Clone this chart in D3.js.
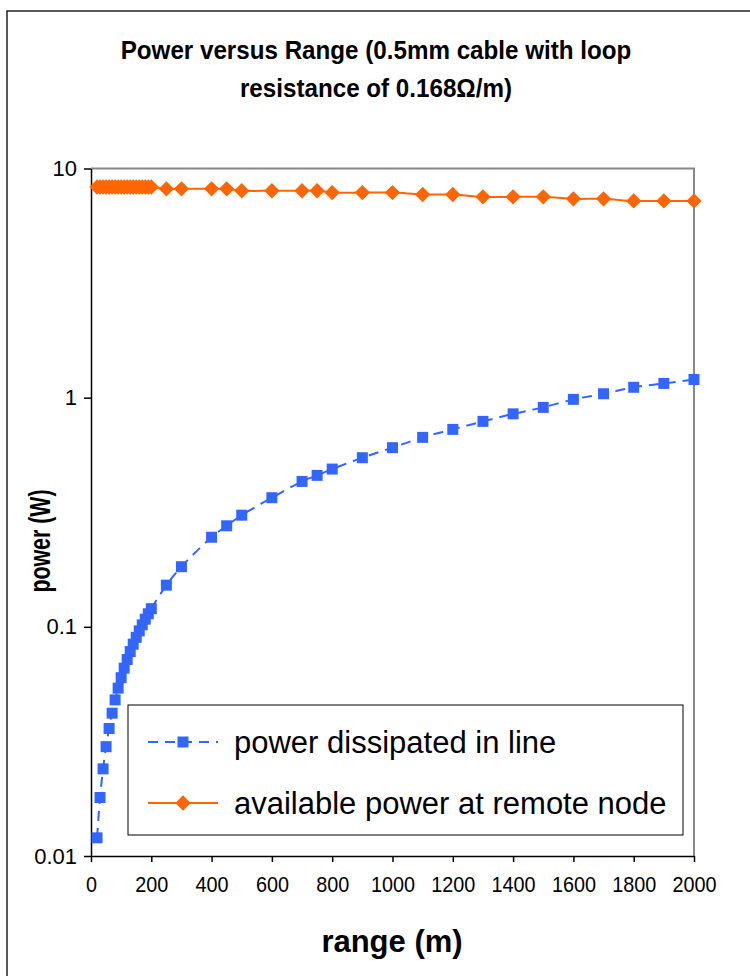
<!DOCTYPE html>
<meta charset="utf-8">

<style type="text/css">
  body {
    margin: 0;
    background: #fff;
    font-family: "Liberation Sans", Arial, sans-serif;
  }

  .axis path,
  .axis line {
    stroke: #000;
    stroke-width: 1.5px;
  }

  .axis text {
    font-family: "Liberation Sans", Arial, sans-serif;
    font-size: 22px;
    fill: #000;
  }
</style>

<body>
</body>

<script src="https://d3js.org/d3.v7.min.js"></script>
<script>
  // range in metres (same points for both series)
  var rangeM = [20, 30, 40, 50, 60, 70, 80, 90, 100, 110, 120, 130, 140, 150, 160, 170, 180, 190, 200,
    250, 300, 400, 450, 500, 600, 700, 750, 800, 900, 1000, 1100, 1200, 1300, 1400, 1500, 1600, 1700, 1800, 1900, 2000];

  // power dissipated in line (W)
  var lineLoss = [0.012, 0.018, 0.024, 0.030, 0.036, 0.042, 0.048, 0.054, 0.060, 0.066, 0.072, 0.078, 0.084, 0.090, 0.096, 0.102, 0.108, 0.114, 0.120,
    0.152, 0.183, 0.246, 0.276, 0.307, 0.366, 0.431, 0.458, 0.488, 0.547, 0.605, 0.671, 0.727, 0.788, 0.850, 0.907, 0.983, 1.04, 1.11, 1.154, 1.20];

  // available power at remote node (W)
  var nodePower = [8.3, 8.3, 8.3, 8.3, 8.3, 8.3, 8.3, 8.3, 8.3, 8.3, 8.3, 8.3, 8.3, 8.3, 8.3, 8.3, 8.3, 8.3, 8.3,
    8.15, 8.15, 8.15, 8.15, 8.0, 8.0, 8.0, 8.0, 7.85, 7.85, 7.85, 7.7, 7.7, 7.52, 7.52, 7.52, 7.37, 7.37, 7.22, 7.22, 7.22];

  var xTicks = [0, 200, 400, 600, 800, 1000, 1200, 1400, 1600, 1800, 2000];
  var xTickLabels = ["0", "200", "400", "600", "800", "1000", "1200", "1400", "1600", "1800", "2000"];
  var yTicks = [0.01, 0.1, 1, 10];
  var yTickLabels = ["0.01", "0.1", "1", "10"];

  var seriesNames = ["power dissipated in line", "available power at remote node"];

  var W = 750,
    H = 976,
    plot = { left: 91, right: 694, top: 168.5, bottom: 856 };

  var blue = "#3366ff",
    orange = "#ff6600";

  var x = d3.scaleLinear().domain([0, 2000]).range([plot.left, plot.right]),
    y = d3.scaleLog().domain([0.01, 10]).range([plot.bottom, plot.top]);

  var svg = d3.select("body")
    .append("svg")
    .attr("width", W)
    .attr("height", H);

  // squeeze text sideways: the original's lettering is tall and narrow
  function condense(sel, k) {
    sel.each(function() {
      var w = this.getComputedTextLength();
      d3.select(this)
        .attr("textLength", w * k)
        .attr("lengthAdjust", "spacingAndGlyphs");
    });
  }

  // outer chart frame (right and bottom edges fall outside the picture)
  svg.append("rect")
    .attr("x", 7)
    .attr("y", 11)
    .attr("width", 800)
    .attr("height", 1000)
    .attr("fill", "#fff")
    .attr("stroke", "#222")
    .attr("stroke-width", 1.5);

  // title, two lines
  svg.selectAll("text.title")
    .data(["Power versus Range (0.5mm cable with loop", "resistance of 0.168Ω/m)"])
    .enter().append("text")
    .attr("class", "title")
    .attr("x", 376)
    .attr("y", function(d, i) { return 59 + i * 38; })
    .attr("text-anchor", "middle")
    .style("font-weight", "bold")
    .style("font-size", "26px")
    .text(function(d) { return d; })
    .call(condense, 0.93);

  // plot area border (top and right in grey)
  svg.append("path")
    .attr("d", "M" + plot.left + "," + plot.top + "H" + plot.right + "V" + plot.bottom)
    .attr("fill", "none")
    .attr("stroke", "#888")
    .attr("stroke-width", 2);

  var gx = svg.append("g")
    .attr("class", "axis x-axis")
    .attr("transform", "translate(0," + plot.bottom + ")")
    .call(d3.axisBottom(x).tickValues(xTicks).tickSize(6).tickSizeOuter(0).tickPadding(14)
      .tickFormat(function(d, i) {
        return xTickLabels[i];
      }));
  gx.selectAll("text").call(condense, 0.9);

  svg.append("g")
    .attr("class", "axis y-axis")
    .attr("transform", "translate(" + plot.left + ",0)")
    .call(d3.axisLeft(y).tickValues(yTicks).tickSize(7).tickSizeOuter(0).tickPadding(7)
      .tickFormat(function(d, i) {
        return yTickLabels[i];
      }));

  // axis titles
  svg.append("text")
    .attr("x", 392)
    .attr("y", 952)
    .attr("text-anchor", "middle")
    .style("font-weight", "bold")
    .style("font-size", "31px")
    .text("range (m)");

  svg.append("text")
    .attr("transform", "translate(50,541) rotate(-90)")
    .attr("text-anchor", "middle")
    .style("font-weight", "bold")
    .style("font-size", "29px")
    .text("power (W)")
    .attr("textLength", 103)
    .attr("lengthAdjust", "spacingAndGlyphs");

  var lossData = rangeM.map(function(r, i) {
    return { r: r, v: lineLoss[i] };
  });
  var nodeData = rangeM.map(function(r, i) {
    return { r: r, v: nodePower[i] };
  });

  var line = d3.line()
    .x(function(d) { return x(d.r); })
    .y(function(d) { return y(d.v); })
    .curve(d3.curveCatmullRom);

  var square = d3.symbol().type(d3.symbolSquare).size(121),
    diamond = d3.symbol().type(d3.symbolDiamond2).size(150);

  //********* orange series ****************
  svg.append("path")
    .datum(nodeData)
    .attr("d", line)
    .attr("fill", "none")
    .attr("stroke", orange)
    .attr("stroke-width", 2);

  svg.append("g").selectAll("path")
    .data(nodeData)
    .enter().append("path")
    .attr("transform", function(d) {
      return "translate(" + x(d.r) + "," + y(d.v) + ")";
    })
    .attr("d", diamond)
    .attr("fill", orange);

  //********* blue series ****************
  svg.append("path")
    .datum(lossData)
    .attr("d", line)
    .attr("fill", "none")
    .attr("stroke", blue)
    .attr("stroke-width", 2)
    .attr("stroke-dasharray", "10,7");

  svg.append("g").selectAll("path")
    .data(lossData)
    .enter().append("path")
    .attr("transform", function(d) {
      return "translate(" + x(d.r) + "," + y(d.v) + ")";
    })
    .attr("d", square)
    .attr("fill", blue);

  //********* legend ****************
  var legend = svg.append("g").attr("transform", "translate(128,705)");
  legend.append("rect")
    .attr("width", 555)
    .attr("height", 130)
    .attr("fill", "#fff")
    .attr("stroke", "#000")
    .attr("stroke-width", 1);

  var rows = legend.selectAll("g.row")
    .data(seriesNames)
    .enter().append("g")
    .attr("class", "row")
    .attr("transform", function(d, i) {
      return "translate(0," + (37 + i * 61) + ")";
    });

  rows.append("line")
    .attr("x1", 20)
    .attr("x2", 90)
    .attr("stroke", function(d, i) { return i ? orange : blue; })
    .attr("stroke-width", 2)
    .attr("stroke-dasharray", function(d, i) { return i ? null : "10,7"; });

  rows.append("path")
    .attr("transform", "translate(55,0)")
    .attr("d", function(d, i) { return i ? diamond() : square(); })
    .attr("fill", function(d, i) { return i ? orange : blue; });

  rows.append("text")
    .attr("x", 106)
    .attr("dy", "0.35em")
    .style("font-size", "31px")
    .text(function(d) { return d; });
</script>
